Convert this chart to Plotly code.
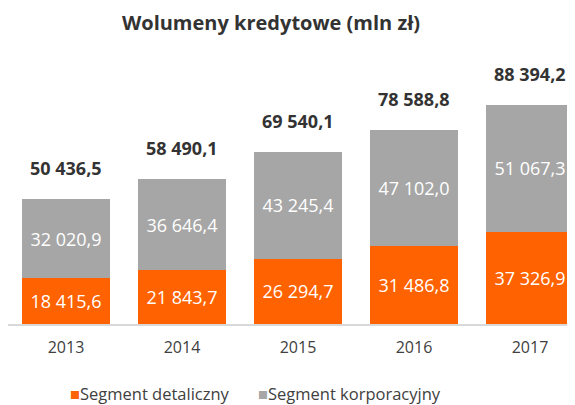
import plotly.graph_objects as go

years = ["2013", "2014", "2015", "2016", "2017"]
detal = [18415.6, 21843.7, 26294.7, 31486.8, 37326.9]
korpo = [32020.9, 36646.4, 43245.4, 47102.0, 51067.3]
totals = [50436.5, 58490.1, 69540.1, 78588.8, 88394.2]
series_names = ["Segment detaliczny", "Segment korporacyjny"]

def fmt(v):
    return f"{v:,.1f}".replace(",", " ").replace(".", ",")

FONT = "Open Sans"
ORANGE = "#FF6200"
GRAY = "#A6A6A6"
DARK = "#333333"

# page body has an 8px margin: figure is sized to fill the rest of the window
W, H = 567, 397
OFF = 8

fig = go.Figure()
fig.add_trace(go.Bar(
    x=years, y=detal, name=series_names[0],
    marker=dict(color=ORANGE, line=dict(width=0)),
    text=[fmt(v) for v in detal], textposition="inside", insidetextanchor="middle",
    textangle=0, textfont=dict(color="white", size=18, family=FONT),
    width=0.767, showlegend=False,
))
fig.add_trace(go.Bar(
    x=years, y=korpo, name=series_names[1],
    marker=dict(color=GRAY, line=dict(width=0)),
    text=[fmt(v) for v in korpo], textposition="inside", insidetextanchor="middle",
    textangle=0, textfont=dict(color="white", size=18, family=FONT),
    width=0.767, showlegend=False,
))
for i, t in enumerate(totals):
    fig.add_annotation(x=i, y=t, xref="x", yref="y", text=f"<b>{fmt(t)}</b>",
                       showarrow=False, yanchor="middle", yshift=31,
                       font=dict(size=18, color=DARK, family=FONT))

plot_top, plot_bot = 80 - OFF, 324 - OFF
ph = plot_bot - plot_top
leg_y = -((393 - OFF) - plot_bot) / ph
fig.add_annotation(xref="paper", yref="paper", x=(68 - OFF) / W, y=leg_y,
                   xanchor="left", yanchor="middle", showarrow=False,
                   text=f"<span style='color:{ORANGE}'>■</span>{series_names[0]}",
                   font=dict(size=16.5, color="#404040", family=FONT))
fig.add_annotation(xref="paper", yref="paper", x=(256 - OFF) / W, y=leg_y,
                   xanchor="left", yanchor="middle", showarrow=False,
                   text=f"<span style='color:{GRAY}'>■</span>{series_names[1]}",
                   font=dict(size=16.5, color="#404040", family=FONT))

fig.update_layout(
    width=W, height=H,
    barmode="stack",
    plot_bgcolor="white", paper_bgcolor="white",
    margin=dict(l=0, r=0, t=plot_top, b=H - plot_bot, autoexpand=False),
    title=dict(text="<b>Wolumeny kredytowe (mln zł)</b>", xref="container",
               x=(271 - OFF) / W, xanchor="center", yref="container",
               y=1 - (23 - OFF) / H, yanchor="middle",
               font=dict(size=20, color=DARK, family=FONT)),
    font=dict(family=FONT, color=DARK),
    xaxis=dict(type="category", range=[-0.5, 4.388], showgrid=False, showline=True,
               linecolor="#D9D9D9", linewidth=2, ticks="outside", ticklen=8,
               tickcolor="rgba(0,0,0,0)", tickfont=dict(size=16, color="#404040"),
               fixedrange=True),
    yaxis=dict(range=[0, 98600], visible=False, fixedrange=True),
    showlegend=False,
    uniformtext=dict(minsize=18, mode="show"),
)
fig.write_html("out.html")
